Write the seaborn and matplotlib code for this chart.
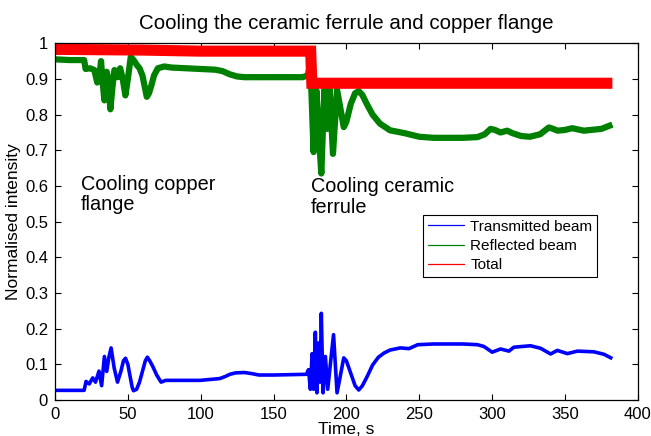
import matplotlib
matplotlib.use("Agg")
import matplotlib.pyplot as plt
from matplotlib.lines import Line2D
import seaborn as sns
import pandas as pd

# ---- data (time in s, normalised intensity) ----
trans_t = [0, 20, 21.3, 23.5, 25.9, 27.8, 30.2, 32, 33.9, 35.5, 37, 38.5, 40.6, 42.9, 45.2,
           47, 48.4, 50, 51.6, 53, 53.9, 56, 58, 60, 62, 63.4, 65, 67, 69.8, 72.8, 76,
           79, 99.6, 113, 117, 120, 124, 130, 135, 140, 150, 172.6, 174, 175.3, 176.5,
           177.5, 178.7, 179.8, 181, 182, 182.8, 184, 185.6, 187.2, 189, 191.2, 193.6,
           195.5, 198.2, 200, 203, 206, 208.5, 211, 214.3, 218, 222, 226, 230, 237,
           243, 249, 260, 280, 290, 294.4, 300.1, 305.8, 311.6, 315, 326.4, 333.3,
           340.2, 344.8, 351.7, 358.6, 370, 376.9, 382.6]
trans_v = [0.027, 0.027, 0.052, 0.045, 0.062, 0.05, 0.081, 0.04, 0.122, 0.08, 0.12, 0.146,
           0.09, 0.05, 0.08, 0.11, 0.117, 0.10, 0.065, 0.035, 0.026, 0.03, 0.05, 0.08,
           0.11, 0.12, 0.11, 0.095, 0.07, 0.05, 0.055, 0.055, 0.055, 0.06, 0.066, 0.072,
           0.076, 0.077, 0.074, 0.07, 0.07, 0.072, 0.085, 0.03, 0.13, 0.03, 0.19, 0.02,
           0.16, 0.05, 0.243, 0.02, 0.122, 0.03, 0.10, 0.183, 0.02, 0.06, 0.118, 0.11,
           0.075, 0.04, 0.028, 0.04, 0.066, 0.098, 0.12, 0.132, 0.14, 0.146, 0.144,
           0.155, 0.157, 0.157, 0.155, 0.15, 0.134, 0.143, 0.137, 0.148, 0.152, 0.145,
           0.129, 0.139, 0.13, 0.137, 0.135, 0.128, 0.116]

refl_t = [0, 10, 20, 21, 24, 27, 29, 30.5, 31.6, 32.5, 33.9, 35.5, 36.5, 38, 39.5, 40.8,
          42, 43, 44.7, 46.5, 48.3, 50, 52, 54.5, 56, 58, 60, 63, 64.5, 66, 68, 70.6,
          75, 80, 100, 110, 115, 120, 125, 130, 150, 170, 173.5, 175.3, 177.5, 179.4,
          181, 182.8, 184.9, 186.7, 188.6, 190.8, 193.6, 198.2, 200, 203, 206, 208.5,
          211, 214, 218, 223, 230, 240, 250, 260, 280, 290, 295, 299, 302, 305.8,
          310.4, 314, 320, 326, 333, 339, 342, 345, 350, 355, 363, 370, 375, 380, 382.6]
refl_v = [0.955, 0.953, 0.953, 0.928, 0.93, 0.925, 0.89, 0.91, 0.95, 0.90, 0.84, 0.92,
          0.90, 0.815, 0.88, 0.925, 0.915, 0.905, 0.93, 0.90, 0.854, 0.90, 0.962, 0.95,
          0.94, 0.93, 0.91, 0.85, 0.86, 0.88, 0.91, 0.93, 0.935, 0.932, 0.928, 0.926,
          0.922, 0.913, 0.907, 0.905, 0.905, 0.905, 0.91, 0.945, 0.695, 0.868, 0.75,
          0.635, 0.87, 0.76, 0.87, 0.69, 0.87, 0.765, 0.78, 0.83, 0.86, 0.866, 0.855,
          0.83, 0.80, 0.775, 0.756, 0.748, 0.738, 0.735, 0.735, 0.737, 0.745, 0.76,
          0.757, 0.75, 0.755, 0.748, 0.74, 0.738, 0.745, 0.764, 0.76, 0.755, 0.757,
          0.762, 0.755, 0.758, 0.76, 0.768, 0.772]

total_t = [0, 60, 100, 175.5, 176.3, 280, 329, 382.6]
total_v = [0.983, 0.981, 0.978, 0.978, 0.888, 0.888, 0.888, 0.888]

x_ticks = [0, 50, 100, 150, 200, 250, 300, 350, 400]
y_ticks = [0, 0.1, 0.2, 0.3, 0.4, 0.5, 0.6, 0.7, 0.8, 0.9, 1.0]
y_tick_labels = ["0", "0.1", "0.2", "0.3", "0.4", "0.5", "0.6", "0.7", "0.8", "0.9", "1"]
series_names = ["Transmitted beam", "Reflected beam", "Total"]
series_colors = ["#0000ff", "#008000", "#ff0000"]

sns.set_style("white")
plt.rcParams["font.family"] = ["Liberation Sans", "DejaVu Sans"]
plt.rcParams["text.color"] = "black"
plt.rcParams["axes.labelcolor"] = "black"
plt.rcParams["xtick.color"] = "black"
plt.rcParams["ytick.color"] = "black"

fig = plt.figure(figsize=(6.51, 4.36), dpi=100)
ax = fig.add_axes([0.0845, 0.0826, 0.8951, 0.8181])

df_t = pd.DataFrame({"t": trans_t, "v": trans_v})
df_r = pd.DataFrame({"t": refl_t, "v": refl_v})
df_s = pd.DataFrame({"t": total_t, "v": total_v})

sns.lineplot(data=df_t, x="t", y="v", ax=ax, color=series_colors[0], linewidth=2.6,
             estimator=None, sort=False, solid_capstyle="butt")
sns.lineplot(data=df_r, x="t", y="v", ax=ax, color=series_colors[1], linewidth=4.5,
             estimator=None, sort=False, solid_capstyle="butt")
sns.lineplot(data=df_s, x="t", y="v", ax=ax, color=series_colors[2], linewidth=8.0,
             estimator=None, sort=False, solid_capstyle="butt", solid_joinstyle="miter")

ax.set_xlim(0, 400)
ax.set_ylim(0, 1)
ax.set_xticks(x_ticks)
ax.set_xticklabels([str(v) for v in x_ticks])
ax.set_yticks(y_ticks)
ax.set_yticklabels(y_tick_labels)
ax.tick_params(direction="in", length=4, width=0.8, labelsize=12, colors="black",
               labelcolor="black", top=True, right=True, bottom=True, left=True, pad=5)
for s in ax.spines.values():
    s.set_visible(True)
    s.set_color("black")
    s.set_linewidth(0.9)

ax.set_xlabel("Time, s", fontsize=12.5, labelpad=0, color="black")
ax.set_ylabel("Normalised intensity", fontsize=12.5, labelpad=3, color="black")
ax.set_title("Cooling the ceramic ferrule and copper flange", fontsize=14.8, pad=10,
             color="black")

ax.text(17.9, 0.632, "Cooling copper\nflange", fontsize=14.3, va="top", ha="left",
        linespacing=1.12, color="black")
ax.text(175.7, 0.625, "Cooling ceramic\nferrule", fontsize=14.3, va="top", ha="left",
        linespacing=1.12, color="black")

handles = [Line2D([0], [0], color=c, linewidth=0.9) for c in series_colors]
leg = ax.legend(handles, series_names, loc="upper left", bbox_to_anchor=(0.631, 0.519),
                borderaxespad=0, fontsize=11, frameon=True, fancybox=False,
                edgecolor="black", handlelength=2.4, labelspacing=0.35,
                borderpad=0.32, handletextpad=0.4, labelcolor="black")
leg.get_frame().set_linewidth(0.8)
leg.get_frame().set_alpha(1)

fig.savefig("out.png", dpi=100)
